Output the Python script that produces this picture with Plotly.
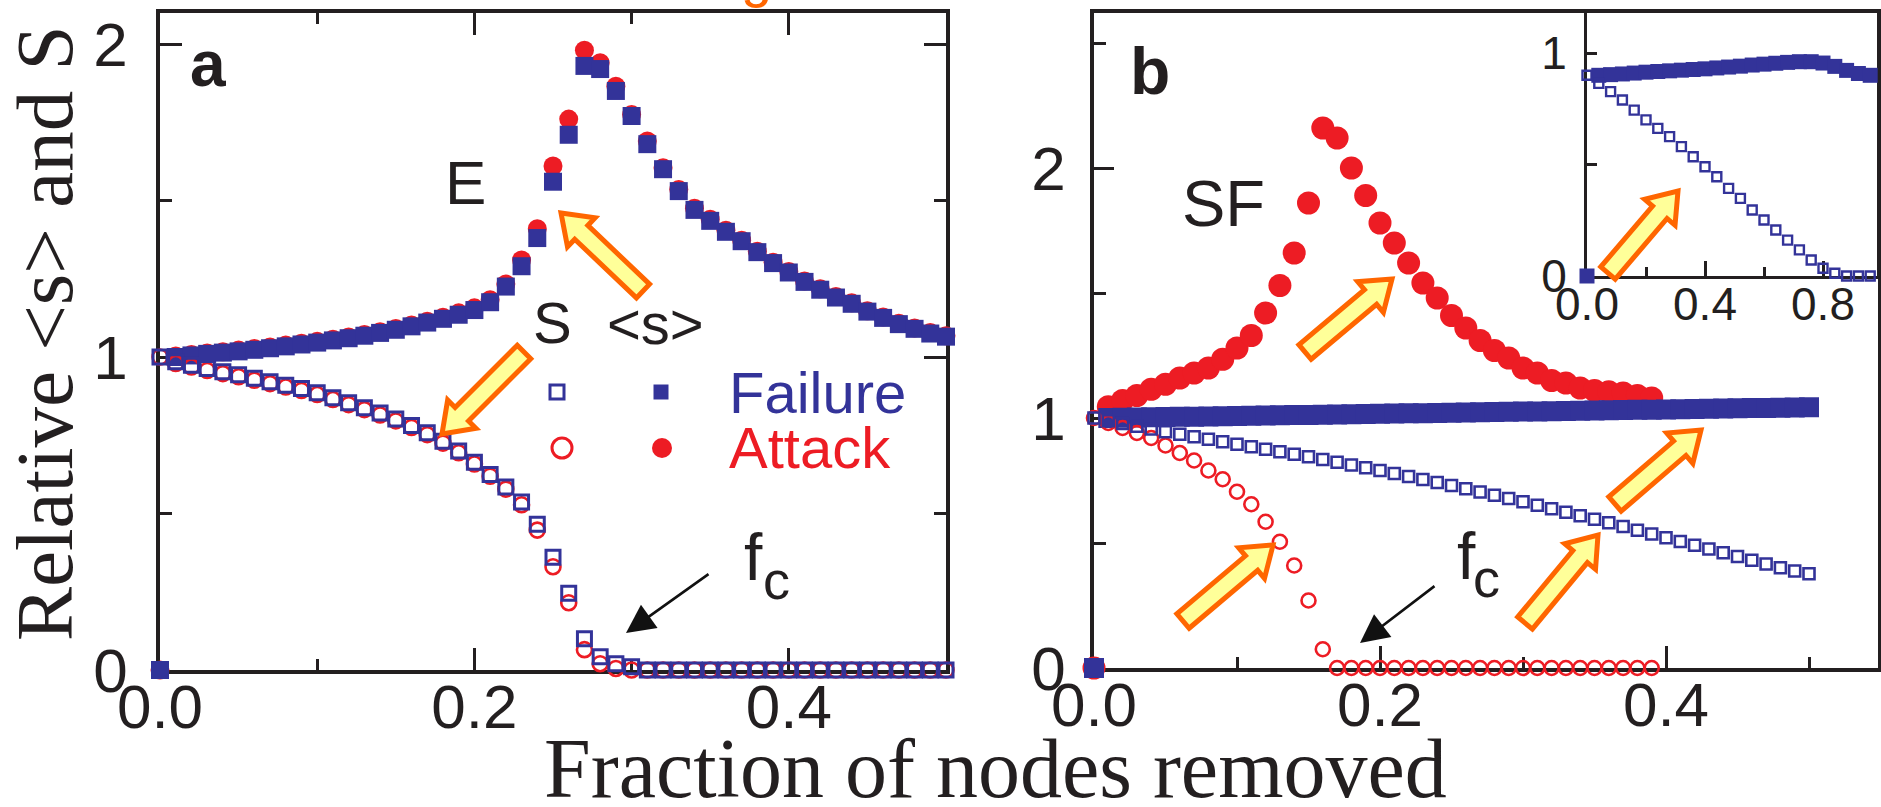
import plotly.graph_objects as go

W, H = 1881, 807
BLUE = "#333399"
RED = "#ED1C24"
INK = "#231F20"
ORANGE = "#FF6600"
YELLOW = "#FFFF99"

# ---------------- data ----------------
# panel a (E: exponential network)
xa = [0.00, 0.01, 0.02, 0.03, 0.04, 0.05, 0.06, 0.07, 0.08, 0.09,
      0.10, 0.11, 0.12, 0.13, 0.14, 0.15, 0.16, 0.17, 0.18, 0.19,
      0.20, 0.21, 0.22, 0.23, 0.24, 0.25, 0.26, 0.27, 0.28, 0.29,
      0.30, 0.31, 0.32, 0.33, 0.34, 0.35, 0.36, 0.37, 0.38, 0.39,
      0.40, 0.41, 0.42, 0.43, 0.44, 0.45, 0.46, 0.47, 0.48, 0.49, 0.50]
a_fail_mean = [0, 1.0, 1.005, 1.01, 1.014, 1.018, 1.023, 1.028, 1.034, 1.04,
               1.046, 1.053, 1.06, 1.068, 1.077, 1.087, 1.098, 1.11, 1.122, 1.135,
               1.15, 1.175, 1.225, 1.29, 1.38, 1.56, 1.71, 1.93, 1.92, 1.85,
               1.77, 1.68, 1.6, 1.53, 1.47, 1.435, 1.4, 1.37, 1.335, 1.3,
               1.27, 1.24, 1.215, 1.19, 1.17, 1.145, 1.125, 1.105, 1.09, 1.075, 1.065]
a_att_mean = [0, 1.003, 1.008, 1.013, 1.017, 1.022, 1.027, 1.032, 1.038, 1.044,
              1.05, 1.057, 1.064, 1.072, 1.081, 1.091, 1.102, 1.114, 1.127, 1.141,
              1.157, 1.183, 1.233, 1.31, 1.41, 1.61, 1.76, 1.98, 1.94, 1.865,
              1.775, 1.69, 1.605, 1.535, 1.475, 1.44, 1.405, 1.373, 1.338, 1.303,
              1.273, 1.243, 1.218, 1.193, 1.173, 1.148, 1.128, 1.108, 1.093, 1.078, 1.068]
a_fail_S = [1.0, 0.985, 0.974, 0.963, 0.953, 0.943, 0.932, 0.921, 0.91, 0.899,
            0.886, 0.87, 0.854, 0.838, 0.821, 0.802, 0.781, 0.758, 0.731, 0.7,
            0.664, 0.625, 0.585, 0.537, 0.466, 0.36, 0.245, 0.1, 0.042, 0.02,
            0.01, 0, 0, 0, 0, 0, 0, 0, 0, 0,
            0, 0, 0, 0, 0, 0, 0, 0, 0, 0, 0]
a_att_S = [1.0, 0.979, 0.968, 0.957, 0.947, 0.937, 0.926, 0.915, 0.904, 0.893,
           0.88, 0.864, 0.848, 0.832, 0.815, 0.796, 0.775, 0.752, 0.725, 0.694,
           0.658, 0.619, 0.578, 0.528, 0.447, 0.33, 0.215, 0.065, 0.02, 0.005,
           0, 0, 0, 0, 0, 0, 0, 0, 0, 0,
           0, 0, 0, 0, 0, 0, 0, 0, 0, 0, 0]

# panel b (SF: scale-free network)
xb = xa
xb_att = [0.00, 0.01, 0.02, 0.03, 0.04, 0.05, 0.06, 0.07, 0.08, 0.09,
          0.10, 0.11, 0.12, 0.13, 0.14, 0.15, 0.16, 0.17, 0.18, 0.19,
          0.20, 0.21, 0.22, 0.23, 0.24, 0.25, 0.26, 0.27, 0.28, 0.29,
          0.30, 0.31, 0.32, 0.33, 0.34, 0.35, 0.36, 0.37, 0.38, 0.39]
b_fail_mean = [0, 1.0, 1.001, 1.002, 1.003, 1.004, 1.005, 1.005, 1.006, 1.007,
               1.008, 1.009, 1.01, 1.011, 1.012, 1.012, 1.013, 1.014, 1.015, 1.016,
               1.017, 1.018, 1.019, 1.019, 1.02, 1.021, 1.022, 1.023, 1.024, 1.025,
               1.026, 1.026, 1.027, 1.028, 1.029, 1.03, 1.031, 1.032, 1.033, 1.033,
               1.034, 1.035, 1.036, 1.037, 1.038, 1.039, 1.04, 1.04, 1.041, 1.042, 1.043]
b_att_mean = [0, 1.045, 1.07, 1.09, 1.115, 1.135, 1.16, 1.18, 1.2, 1.235,
              1.28, 1.33, 1.42, 1.53, 1.66, 1.86, 2.16, 2.12, 2.0, 1.89,
              1.78, 1.7, 1.62, 1.54, 1.48, 1.41, 1.36, 1.31, 1.27, 1.24,
              1.2, 1.18, 1.15, 1.14, 1.12, 1.11, 1.105, 1.1, 1.09, 1.08]
b_fail_S = [1.0, 0.989, 0.978, 0.967, 0.956, 0.945, 0.935, 0.925, 0.915, 0.905,
            0.895, 0.885, 0.875, 0.865, 0.855, 0.845, 0.834, 0.823, 0.812, 0.801,
            0.79, 0.778, 0.766, 0.754, 0.742, 0.73, 0.717, 0.704, 0.691, 0.678,
            0.665, 0.651, 0.637, 0.623, 0.609, 0.595, 0.581, 0.566, 0.551, 0.536,
            0.521, 0.506, 0.491, 0.476, 0.461, 0.446, 0.431, 0.416, 0.401, 0.388, 0.377]
b_att_S = [1.0, 0.98, 0.96, 0.94, 0.92, 0.89, 0.86, 0.83, 0.79, 0.755,
           0.705, 0.655, 0.585, 0.505, 0.41, 0.27, 0.075, 0, 0, 0,
           0, 0, 0, 0, 0, 0, 0, 0, 0, 0,
           0, 0, 0, 0, 0, 0, 0, 0, 0, 0]

# inset (SF failure, full range)
xi = [0.00, 0.04, 0.08, 0.12, 0.16, 0.20, 0.24, 0.28, 0.32, 0.36, 0.40, 0.44,
      0.48, 0.52, 0.56, 0.60, 0.64, 0.68, 0.72, 0.76, 0.80, 0.84, 0.88, 0.92, 0.96]
i_fail_S = [0.90, 0.864, 0.827, 0.789, 0.744, 0.70, 0.662, 0.625, 0.58, 0.535,
            0.49, 0.445, 0.393, 0.348, 0.296, 0.251, 0.206, 0.161, 0.117, 0.072,
            0.035, 0.012, 0.0, 0.0, 0.0]
i_fail_mean = [0, 0.900, 0.903, 0.906, 0.910, 0.914, 0.917, 0.920, 0.923, 0.926,
               0.929, 0.933, 0.937, 0.941, 0.946, 0.950, 0.954, 0.958, 0.961, 0.961,
               0.955, 0.940, 0.922, 0.908, 0.900]

# tick labels
main_xticks = [0.0, 0.2, 0.4]
main_xticklabels = ["0.0", "0.2", "0.4"]
main_yticks = [0, 1, 2]
inset_xticks = [0.0, 0.4, 0.8]
inset_xticklabels = ["0.0", "0.4", "0.8"]
inset_yticks = [0, 1]


def X(p):
    return p / W


def Y(p):
    return 1 - p / H


fig = go.Figure()


def add(x, y, ax, symbol, size, color, lw=0):
    fig.add_trace(go.Scatter(
        x=x, y=y, mode="markers", xaxis=ax[0], yaxis=ax[1], cliponaxis=False,
        showlegend=False, hoverinfo="skip",
        marker=dict(symbol=symbol, size=size, color=color,
                    line=dict(width=lw, color=color))))


A = ("x", "y")
B = ("x2", "y2")
I = ("x3", "y3")

# panel a
add(xa, a_att_mean, A, "circle", 19, RED)
add(xa, a_fail_mean, A, "square", 18, BLUE)
add(xa, a_att_S, A, "circle-open", 15, RED, 2.6)
add(xa, a_fail_S, A, "square-open", 14, BLUE, 3)
# panel b
add(xb_att, b_att_mean, B, "circle", 23, RED)
add(xb, b_fail_mean, B, "square", 20, BLUE)
add(xb_att, b_att_S, B, "circle-open", 14, RED, 2.6)
add(xb, b_fail_S, B, "square-open", 11, BLUE, 2.6)
# inset
add(xi, i_fail_mean, I, "square", 15, BLUE)
add(xi, i_fail_S, I, "square-open", 9, BLUE, 2.4)

TICKFAM = "Liberation Sans, Arial, sans-serif"
axis_common = dict(showgrid=False, zeroline=False, showline=True, linecolor=INK,
                   ticks="inside", tickcolor=INK, layer="below traces", automargin=False)


def mk_axis(**kw):
    d = dict(axis_common)
    d.update(kw)
    return d


def minor(vals, ln, w=3):
    return dict(tickvals=vals, ticks="inside", ticklen=ln, tickwidth=w,
                tickcolor=INK, showgrid=False)


layout = dict(
    template="none",
    width=W, height=H, margin=dict(l=0, r=0, t=0, b=0, autoexpand=False),
    paper_bgcolor="white", plot_bgcolor="white", showlegend=False,
    xaxis=mk_axis(domain=[X(160), X(946)], range=[0, 0.5], anchor="y",
                  linewidth=3.5, mirror="ticks", ticklen=22, tickwidth=3,
                  tickvals=main_xticks, ticktext=main_xticklabels,
                  tickfont=dict(size=62, family=TICKFAM, color=INK),
                  ticklabelstandoff=-20, minor=minor([0.1, 0.3, 0.5], 11)),
    yaxis=mk_axis(domain=[Y(670), Y(13)], range=[0, (670 - 13) / 313], anchor="x",
                  linewidth=3.5, mirror="ticks", ticklen=22, tickwidth=3,
                  tickvals=main_yticks,
                  tickfont=dict(size=62, family=TICKFAM, color=INK),
                  ticklabelstandoff=16, minor=minor([0.5, 1.5], 12)),
    xaxis2=mk_axis(domain=[X(1094), X(1878)], range=[0, (1878 - 1094) / 1430], anchor="y2",
                   linewidth=3.5, mirror=True, ticklen=22, tickwidth=3,
                   tickvals=main_xticks, ticktext=main_xticklabels,
                   tickfont=dict(size=62, family=TICKFAM, color=INK),
                   ticklabelstandoff=-20, minor=minor([0.1, 0.3, 0.5], 11)),
    yaxis2=mk_axis(domain=[Y(668), Y(13)], range=[0, (668 - 13) / 250], anchor="x2",
                   linewidth=3.5, mirror=True, ticklen=20, tickwidth=3,
                   tickvals=main_yticks,
                   tickfont=dict(size=62, family=TICKFAM, color=INK),
                   ticklabelstandoff=12, minor=minor([0.5, 1.5, 2.5], 12)),
    xaxis3=mk_axis(domain=[X(1587), X(1877)], range=[0, (1877 - 1587) / 295], anchor="y3",
                   linewidth=3, mirror=True, ticklen=15, tickwidth=2.5,
                   tickvals=inset_xticks, ticktext=inset_xticklabels,
                   tickfont=dict(size=46, family=TICKFAM, color=INK),
                   ticklabelstandoff=-14, minor=minor([0.2, 0.6], 9, 2.5)),
    yaxis3=mk_axis(domain=[Y(276), Y(13)], range=[0, (276 - 13) / 223], anchor="x3",
                   linewidth=3, mirror=True, ticklen=10, tickwidth=2.5,
                   tickvals=inset_yticks,
                   tickfont=dict(size=46, family=TICKFAM, color=INK),
                   ticklabelstandoff=8, minor=minor([0.5], 10, 2.5)),
)
fig.update_layout(**layout)

SANS = "Liberation Sans, Arial, sans-serif"
SERIF = "Liberation Serif, Times New Roman, serif"
annos = []


def txt(text, px, py, size, color=INK, family=SANS, xanchor="center", yanchor="middle",
        angle=0):
    annos.append(dict(text=text, x=X(px), y=Y(py), xref="paper", yref="paper",
                      showarrow=False, xanchor=xanchor, yanchor=yanchor, textangle=angle,
                      font=dict(size=size, color=color, family=family)))


txt("<b>a</b>", 208, 64, 64)
txt("<b>b</b>", 1150, 71, 66)
txt("E", 465, 183, 62)
txt("SF", 1223, 204, 65)
txt("S", 552, 323, 58)
txt("&lt;s&gt;", 655, 324, 58)
txt("Failure", 727, 392, 58, color=BLUE, xanchor="left")
txt("Attack", 727, 447, 58, color=RED, xanchor="left")
txt("f", 753, 557, 66)
txt("c", 776, 580, 54)
txt("f", 1466, 556, 66)
txt("c", 1486, 578, 54)
txt("Fraction of nodes removed", 995, 768, 84, family=SERIF)
txt("Relative &lt;s&gt; and S", 45, 333, 81, family=SERIF, angle=-90)
txt("g", 756, 10, 56, color=ORANGE, yanchor="bottom")

# f_c pointers
for tail, tip in [((710, 573), (626, 633)), ((1436, 585), (1360, 643))]:
    annos.append(dict(x=X(tip[0]), y=Y(tip[1]), xref="paper", yref="paper", text="",
                      showarrow=True, ax=tail[0] - tip[0], ay=tail[1] - tip[1],
                      arrowhead=2, arrowsize=2.2, arrowwidth=2.6, arrowcolor="#111111",
                      standoff=0))
fig.update_layout(annotations=annos)

# highlight block arrows (tail -> tip, in pixels)
block_arrows = [((643, 291), (561, 213)), ((524, 352), (442, 434)),
                ((1305, 352), (1392, 279)), ((1183, 621), (1273, 545)),
                ((1525, 623), (1598, 535)), ((1615, 504), (1701, 430)),
                ((1608, 273), (1678, 191))]
shapes = []
for (tx, ty), (hx, hy) in block_arrows:
    dx, dy = hx - tx, hy - ty
    L = (dx * dx + dy * dy) ** 0.5
    ux, uy = dx / L, dy / L
    nx, ny = -uy, ux
    w, hw, hl = 9.5, 20, 28
    bx, by = hx - ux * hl, hy - uy * hl
    pts = [(tx + nx * w, ty + ny * w), (bx + nx * w, by + ny * w), (bx + nx * hw, by + ny * hw),
           (hx, hy), (bx - nx * hw, by - ny * hw), (bx - nx * w, by - ny * w),
           (tx - nx * w, ty - ny * w)]
    path = "M " + " L ".join(f"{X(px):.5f},{Y(py):.5f}" for px, py in pts) + " Z"
    shapes.append(dict(type="path", path=path, xref="paper", yref="paper",
                       fillcolor=YELLOW, line=dict(color=ORANGE, width=5), layer="above"))


# legend keys (pixel-sized shapes anchored in paper coords)
def key(kind, px, py, size, fill, edge=None):
    shapes.append(dict(type=kind, xref="paper", yref="paper",
                       xsizemode="pixel", ysizemode="pixel",
                       xanchor=X(px), yanchor=Y(py),
                       x0=-size / 2, x1=size / 2, y0=-size / 2, y1=size / 2,
                       fillcolor=fill,
                       line=dict(color=edge[1] if edge else fill, width=edge[0] if edge else 0),
                       layer="above"))


key("rect", 557, 392, 14, "white", (3, BLUE))
key("rect", 661, 392, 15, BLUE)
key("circle", 562, 448, 20, "white", (3, RED))
key("circle", 662, 448, 20, RED)

fig.update_layout(shapes=shapes)
fig.write_html("out.html")
